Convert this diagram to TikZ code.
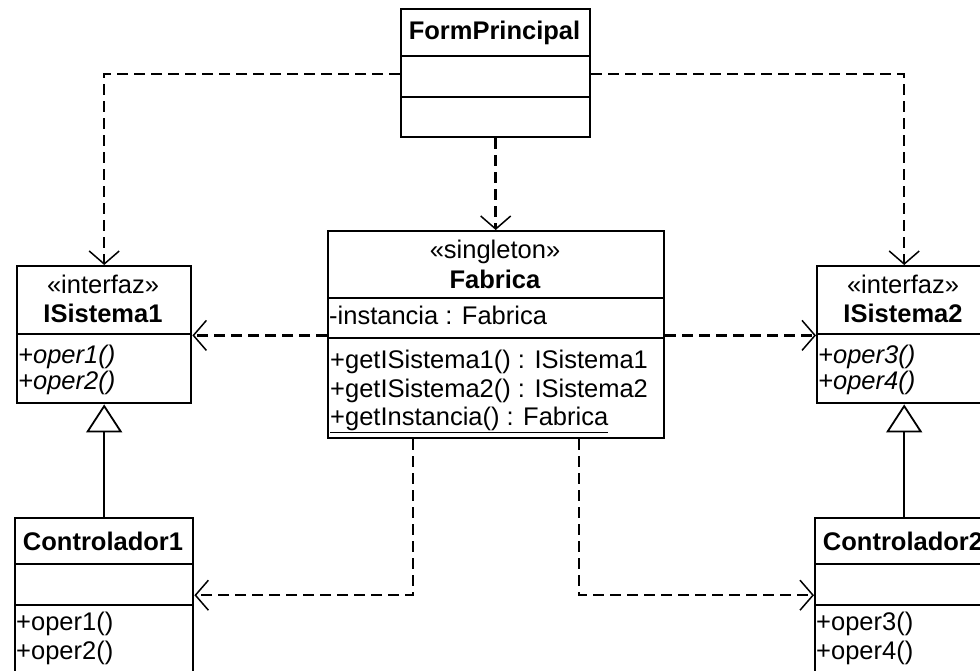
\documentclass[tikz,border=0pt]{standalone}
\usepackage{fontspec}
\setmainfont{Liberation Sans}
\usetikzlibrary{arrows.meta}
\begin{document}
\begin{tikzpicture}[x=1pt,y=-1pt,
  box/.style={draw, line width=2.4pt, inner sep=0pt, anchor=north west},
  txt/.style={inner sep=0pt, font=\fontsize{25.5}{28}\selectfont},
  txtb/.style={txt, font=\fontsize{25.5}{28}\selectfont\bfseries},
  txti/.style={txt, font=\fontsize{25.5}{28}\selectfont\itshape},
  dep/.style={line width=2.5pt, dash pattern=on 11pt off 6pt,
    -{Straight Barb[length=13pt,width=30pt,line width=1.5pt]}},
  inh/.style={line width=1.5pt,
    -{Triangle[open,length=28pt,width=36pt,line width=1.8pt,fill=white]}}
]
\useasboundingbox (0,0) rectangle (980,670);
\clip (0,0) rectangle (980,670);

% FormPrincipal
\node[box, minimum width=189pt, minimum height=47pt] (fp1) at (400,8) {};
\node[box, minimum width=189pt, minimum height=41pt] (fp2) at (400,55) {};
\node[box, minimum width=189pt, minimum height=40pt] (fp3) at (400,96) {};
\node[txtb, anchor=base] (fpt) at (494.5,39) {FormPrincipal};

% Fabrica
\node[box, minimum width=336pt, minimum height=67pt] (fab1) at (327,230) {};
\node[box, minimum width=336pt, minimum height=40pt] (fab2) at (327,297) {};
\node[box, minimum width=336pt, minimum height=100pt] (fab3) at (327,337) {};
\node[txt, anchor=base] (fabs) at (495,258) {«singleton»};
\node[txtb, anchor=base] (fabn) at (495,288) {Fabrica};
\node[txt, anchor=base west] (faba) at (329,324) {-instancia : Fabrica};
\node[txt, anchor=base west] (fabm1) at (330,368) {+getISistema1() : ISistema1};
\node[txt, anchor=base west] (fabm2) at (330,397) {+getISistema2() : ISistema2};
\node[txt, anchor=base west] (fabm3) at (330,425) {\underline{+getInstancia() : Fabrica}};

% ISistema1
\node[box, minimum width=174pt, minimum height=68pt] (is1h) at (16,265) {};
\node[box, minimum width=174pt, minimum height=69pt] (is1m) at (16,333) {};
\node[txt, anchor=base] (is1s) at (103,293) {«interfaz»};
\node[txtb, anchor=base] (is1n) at (103,322) {ISistema1};
\node[txti, anchor=base west] (is1o1) at (18,363) {+oper1()};
\node[txti, anchor=base west] (is1o2) at (18,389) {+oper2()};

% ISistema2
\node[box, minimum width=174pt, minimum height=68pt] (is2h) at (816,265) {};
\node[box, minimum width=174pt, minimum height=69pt] (is2m) at (816,333) {};
\node[txt, anchor=base] (is2s) at (903,293) {«interfaz»};
\node[txtb, anchor=base] (is2n) at (903,322) {ISistema2};
\node[txti, anchor=base west] (is2o1) at (818,363) {+oper3()};
\node[txti, anchor=base west] (is2o2) at (818,389) {+oper4()};

% Controlador1
\node[box, minimum width=178pt, minimum height=46pt] (c1h) at (14,517) {};
\node[box, minimum width=178pt, minimum height=41pt] (c1a) at (14,563) {};
\node[box, minimum width=178pt, minimum height=86pt] (c1m) at (14,604) {};
\node[txtb, anchor=base] (c1n) at (103,550) {Controlador1};
\node[txt, anchor=base west] (c1o1) at (16,630) {+oper1()};
\node[txt, anchor=base west] (c1o2) at (16,659) {+oper2()};

% Controlador2
\node[box, minimum width=178pt, minimum height=46pt] (c2h) at (814,517) {};
\node[box, minimum width=178pt, minimum height=41pt] (c2a) at (814,563) {};
\node[box, minimum width=178pt, minimum height=86pt] (c2m) at (814,604) {};
\node[txtb, anchor=base] (c2n) at (903,550) {Controlador2};
\node[txt, anchor=base west] (c2o1) at (816,630) {+oper3()};
\node[txt, anchor=base west] (c2o2) at (816,659) {+oper4()};

% dependencies
\draw[dep] ([yshift=2.5pt]fp2.west) -| (is1h.north);
\draw[dep] ([yshift=2.5pt]fp2.east) -| (is2h.north);
\draw[dep] (fp3.south) -- (fp3.south |- fab1.north);
\draw[dep] (is1h.south east -| fab2.west) -- (is1h.south east);
\draw[dep] (is2h.south west -| fab2.east) -- (is2h.south west);
\draw[dep] ([xshift=-83pt]fab3.south) |- ([yshift=-10.5pt]c1a.east);
\draw[dep] ([xshift=83pt]fab3.south) |- ([yshift=-10.5pt]c2a.west);

% realizations
\draw[inh] (c1h.north) -- (is1m.south);
\draw[inh] (c2h.north) -- (is2m.south);
\end{tikzpicture}
\end{document}
